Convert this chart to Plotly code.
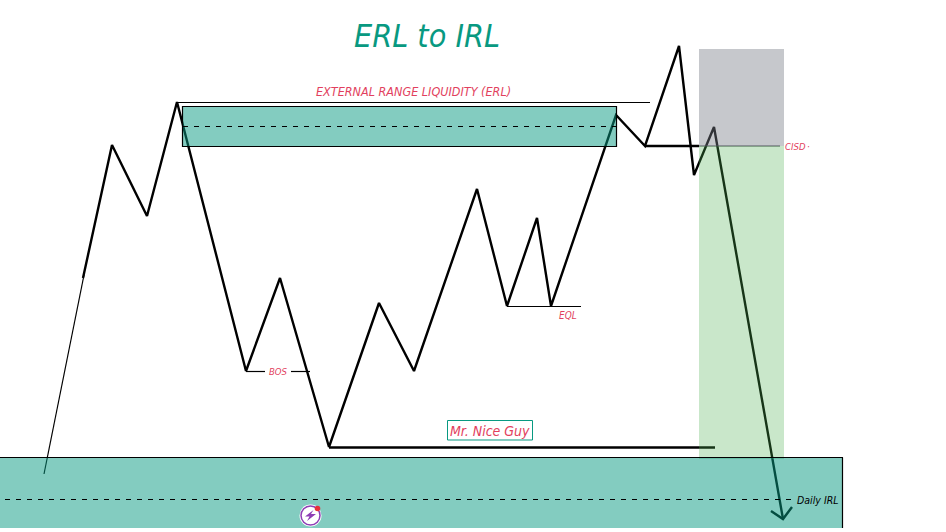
import plotly.graph_objects as go

WIDTH = 946
HEIGHT = 532

price_x = [83, 112, 147, 177, 246, 280, 329, 379, 414, 477, 507, 537, 551, 616, 645, 679, 694, 714, 783]
price_y = [278, 145, 216, 102, 371, 278, 447, 303, 371, 189, 306, 218, 306, 115, 146, 46, 175, 127, 519]
lead_x = [44, 84]
lead_y = [474, 275]
arrow_x = [771, 783, 792]
arrow_y = [511, 519, 507]

# x0, y0, x1, y1
erl_zone = [182.5, 106.5, 616.5, 146.5]
irl_zone = [0, 457.5, 843, 528]
risk_zone = [699, 49, 784, 146]
target_zone = [699, 146, 784, 459]
label_box = [447.5, 420.5, 532.5, 440]

erl_mid = [183, 126.5, 616, 126.5]
irl_mid = [5, 499.5, 792, 499.5]
irl_top = [0, 457.5, 843, 457.5]
irl_right = [842.5, 457.5, 842.5, 528]
erl_top = [177, 102.5, 650, 102.5]
cisd_thick = [645, 146, 699, 146]
cisd_thin = [699, 146, 780, 146]
low_line = [329, 447.5, 715, 447.5]
bos_left = [246, 371.5, 265, 371.5]
bos_right = [291, 371.5, 310, 371.5]
eql_line = [507, 306.5, 581, 306.5]

icon_center = [310.5, 515.5]
icon_dot = [317.5, 508.5]
bolt_x = [313.5, 305, 309.5, 307, 316, 311]
bolt_y = [510, 516.5, 516.5, 521, 514, 514]

labels = ["ERL to IRL", "EXTERNAL RANGE LIQUIDITY (ERL)", "BOS", "EQL", "CISD", "·", "Mr. Nice Guy", "Daily IRL"]
label_x = [427, 413, 278, 568, 795, 808, 490, 818]
label_y = [36, 91, 371, 315, 146, 146, 430.5, 499.5]
label_size = [32, 12.5, 9.5, 10, 9.5, 9.5, 14, 10.5]
label_color = ["#089981", "#e23f5e", "#e23f5e", "#e23f5e", "#e23f5e", "#e23f5e", "#e23f5e", "#000000"]

FONT = "DejaVu Sans Condensed"
DASH = "5px,6px"


def rect(box, fill, line_color=None, line_width=1):
    return dict(
        type="rect", x0=box[0], y0=box[1], x1=box[2], y1=box[3],
        fillcolor=fill, layer="above",
        line=dict(color=line_color, width=line_width) if line_color else dict(width=0),
    )


def seg(coords, color="black", width=1.2, dash="solid"):
    return dict(
        type="line", x0=coords[0], y0=coords[1], x1=coords[2], y1=coords[3],
        layer="above", line=dict(color=color, width=width, dash=dash),
    )


def circle(center, r, fill, line_color=None, line_width=1):
    return dict(
        type="circle", x0=center[0] - r, y0=center[1] - r, x1=center[0] + r, y1=center[1] + r,
        fillcolor=fill, layer="above",
        line=dict(color=line_color, width=line_width) if line_color else dict(width=0),
    )


fig = go.Figure()

# lines go under the see-through zones, that is what tints them
fig.add_trace(go.Scatter(x=lead_x, y=lead_y, mode="lines", line=dict(color="black", width=1.2)))
fig.add_trace(go.Scatter(x=price_x, y=price_y, mode="lines", line=dict(color="black", width=2.4)))
fig.add_trace(go.Scatter(x=arrow_x, y=arrow_y, mode="lines", line=dict(color="black", width=2.4)))

bolt_path = "M " + " L ".join(f"{x},{y}" for x, y in zip(bolt_x, bolt_y)) + " Z"

shapes = [
    seg(cisd_thick, width=2.4),
    seg(low_line, width=2.5),
    seg(erl_top),
    seg(bos_left),
    seg(bos_right),
    seg(eql_line),
    seg(cisd_thin, color="#3a3c44", width=1.2),
    rect(risk_zone, "rgba(120,123,134,0.42)"),
    rect(target_zone, "rgba(76,175,80,0.3)"),
    rect(erl_zone, "rgba(8,153,129,0.5)", "black", 1.2),
    rect(irl_zone, "rgba(8,153,129,0.5)"),
    seg(irl_top),
    seg(irl_right),
    seg(erl_mid, width=1.1, dash=DASH),
    seg(irl_mid, width=1.1, dash=DASH),
    rect(label_box, "white", "#089981", 1),
    circle(icon_center, 11, "white"),
    circle(icon_center, 9.5, "rgba(255,255,255,0)", "#8e3db5", 1.5),
    dict(type="path", path=bolt_path, fillcolor="#8e3db5", layer="above", line=dict(width=0)),
    circle(icon_dot, 2.8, "#e8303a"),
]

for text, x, y, size, color in zip(labels, label_x, label_y, label_size, label_color):
    fig.add_annotation(
        x=x, y=y, text=text, showarrow=False, xanchor="center", yanchor="middle",
        font=dict(family=FONT, size=size, color=color, style="italic"),
    )

fig.update_layout(
    width=WIDTH,
    height=HEIGHT,
    margin=dict(l=0, r=0, t=0, b=0),
    paper_bgcolor="white",
    plot_bgcolor="white",
    showlegend=False,
    shapes=shapes,
    xaxis=dict(range=[0, WIDTH], visible=False),
    yaxis=dict(range=[HEIGHT, 0], visible=False),
)

fig.write_html(
    "out.html",
    config=dict(displayModeBar=False),
    post_script="document.body.style.margin='0';",
)
